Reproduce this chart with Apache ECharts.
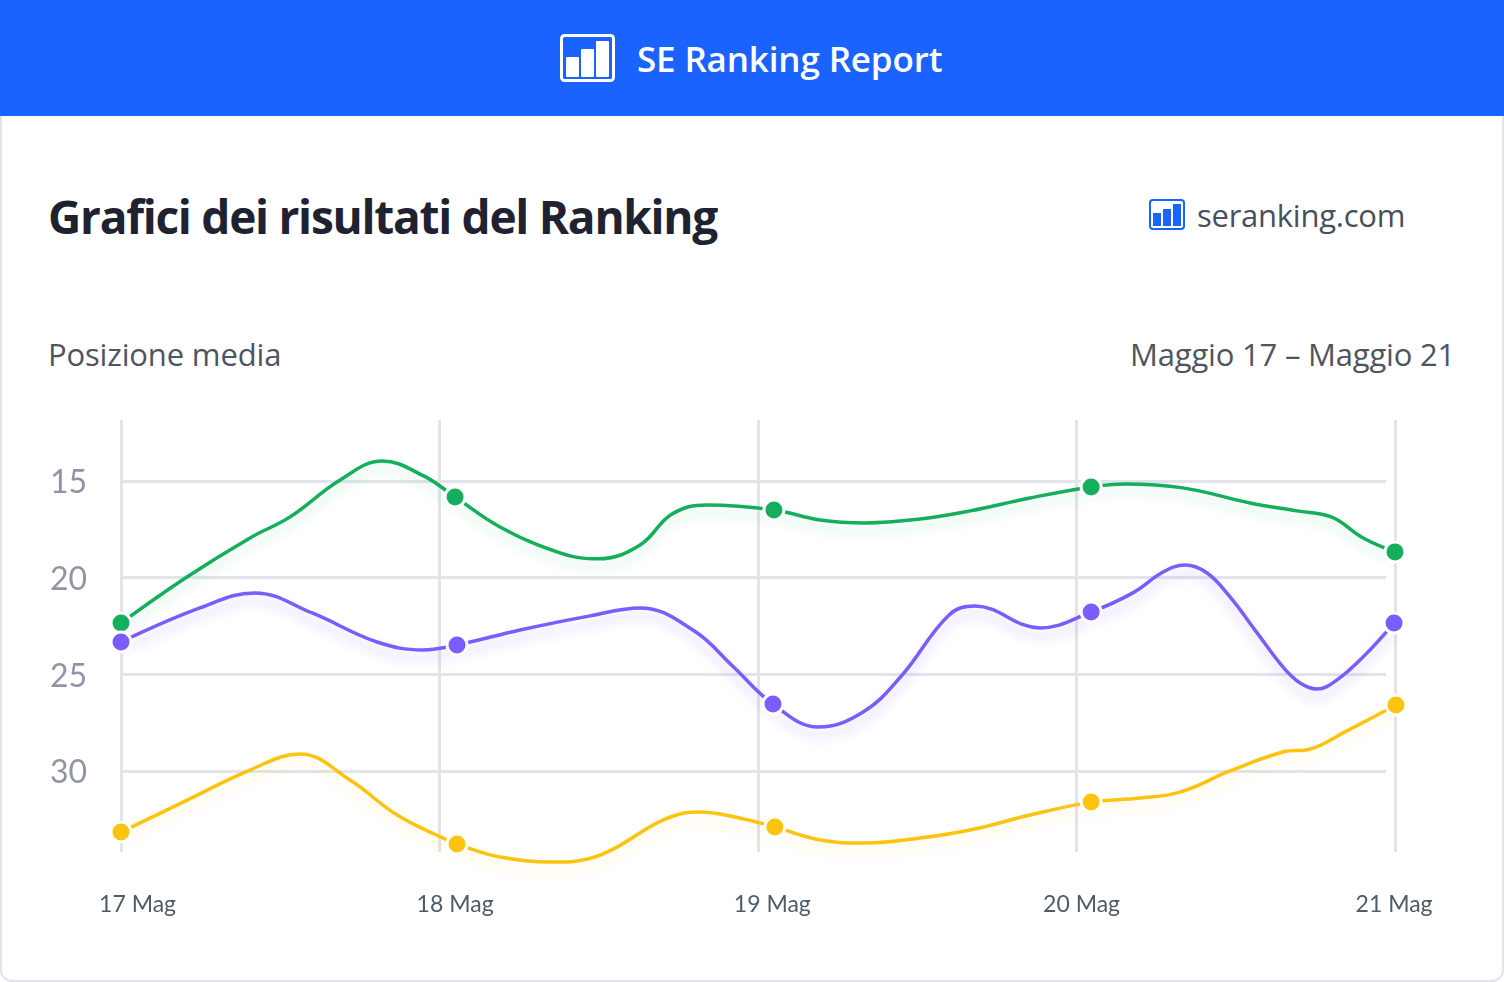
<!DOCTYPE html>
<html>
<head>
<meta charset="utf-8">
<title>SE Ranking Report</title>
<script src="https://cdn.jsdelivr.net/npm/echarts@6/dist/echarts.min.js"></script>
<style>
    html, body { margin: 0; padding: 0; background: #fff; }
    body { position: relative; width: 1504px; height: 982px; overflow: hidden; font-family: Lato, sans-serif; }
    .card { position: absolute; left: 0; top: 100px; width: 1500px; height: 878px; border: 2px solid #e3e4ea; border-radius: 12px; }
    .header { position: absolute; left: 0; top: 0; width: 1504px; height: 116px; background: #1a63ff; }
    .txt { position: absolute; white-space: nowrap; line-height: 1; }
    #chart { position: absolute; left: 0; top: 0; width: 1504px; height: 982px; }
</style>
</head>
<body>
<div class="card"></div>
<div class="header"></div>
<svg style="position:absolute;left:560px;top:34px" width="55" height="48">
    <rect x="1.5" y="1.5" width="52" height="45" rx="3" fill="none" stroke="#fff" stroke-width="3"/>
    <rect x="6" y="23" width="13" height="20" rx="1" fill="#fff"/>
    <rect x="21" y="15" width="13" height="28" rx="1" fill="#fff"/>
    <rect x="36" y="7" width="13" height="36" rx="1" fill="#fff"/>
</svg>
<div class="txt" style="left:637px;top:35px;font:600 35px 'Open Sans';letter-spacing:-0.15px;color:#fff">SE Ranking Report</div>
<div class="txt" style="left:48px;top:185px;font:700 46px 'Open Sans';letter-spacing:-1.27px;color:#1f2230">Grafici dei risultati del Ranking</div>
<svg style="position:absolute;left:1149px;top:199px" width="36" height="31">
    <rect x="1" y="1" width="34" height="29" rx="3" fill="none" stroke="#1a63ff" stroke-width="2"/>
    <rect x="4" y="14" width="8" height="13" fill="#1a63ff"/>
    <rect x="14" y="10" width="8" height="17" fill="#1a63ff"/>
    <rect x="24" y="5" width="8" height="22" fill="#1a63ff"/>
</svg>
<div class="txt" style="left:1197px;top:194px;font:400 31px 'Open Sans';letter-spacing:-0.25px;color:#4a4f5c">seranking.com</div>
<div class="txt" style="left:48px;top:333px;font:400 31px 'Open Sans';letter-spacing:-0.15px;color:#4f5560">Posizione media</div>
<div class="txt" style="right:49px;top:333px;font:400 31px 'Open Sans';letter-spacing:-0.2px;color:#4f5560">Maggio 17 – Maggio 21</div>
<div id="chart"></div>

<script>
// x = giorni dal 17 Mag, y = posizione media
const dateTicks = [0, 1, 2, 3, 4];
const dateLabels = ['17 Mag', '18 Mag', '19 Mag', '20 Mag', '21 Mag'];
const dateLabelAt = [0.052, 1.049, 2.045, 3.016, 3.997];
const positionTicks = [15, 20, 25, 30];

const greenDays = [0, 0.207, 0.405, 0.531, 0.688, 0.82, 0.95, 1.049, 1.19, 1.378, 1.498, 1.63, 1.73, 1.84, 2.05, 2.195, 2.336, 2.509, 2.666, 2.854, 3.046, 3.152, 3.334, 3.545, 3.692, 3.8, 3.9, 4];
const greenPos = [22.35, 19.97, 17.95, 16.86, 14.95, 13.97, 14.74, 15.83, 17.38, 18.72, 19.03, 18.31, 16.71, 16.24, 16.5, 17.02, 17.17, 16.97, 16.55, 15.88, 15.31, 15.16, 15.36, 16.14, 16.55, 16.86, 17.95, 18.67];
const greenDots = [0, 1.049, 2.05, 3.046, 4];

const purpleDays = [0, 0.248, 0.42, 0.6, 0.804, 0.948, 1.055, 1.253, 1.473, 1.63, 1.8, 1.92, 2.047, 2.19, 2.33, 2.45, 2.6, 2.681, 2.885, 3.046, 3.177, 3.272, 3.341, 3.41, 3.482, 3.567, 3.648, 3.702, 3.755, 3.818, 3.9, 3.997];
const purplePos = [23.33, 21.57, 20.79, 21.83, 23.33, 23.74, 23.48, 22.71, 21.98, 21.57, 22.76, 24.57, 26.54, 27.73, 26.95, 25.09, 21.93, 21.47, 22.6, 21.78, 20.79, 19.71, 19.35, 19.76, 21, 22.86, 24.62, 25.45, 25.76, 25.29, 24.1, 22.35];
const purpleDots = [0, 1.055, 2.047, 3.046, 3.997];

const yellowDays = [0, 0.195, 0.405, 0.562, 0.719, 0.867, 1.011, 1.055, 1.19, 1.347, 1.504, 1.708, 1.818, 1.928, 2.053, 2.195, 2.336, 2.509, 2.681, 2.854, 3.046, 3.199, 3.325, 3.482, 3.648, 3.733, 3.843, 4.003];
const yellowPos = [33.16, 31.61, 29.95, 29.12, 30.47, 32.28, 33.47, 33.78, 34.45, 34.71, 34.35, 32.49, 32.12, 32.38, 32.9, 33.57, 33.73, 33.47, 33, 32.28, 31.61, 31.4, 31.09, 30, 29.02, 28.87, 27.98, 26.59];
const yellowDots = [0, 1.055, 2.053, 3.046, 4.003];

function makeLine(name, days, pos, dots, color, glow) {
    return {
        name: name,
        type: 'line',
        xAxisIndex: 1,
        yAxisIndex: 1,
        data: days.map((d, i) => [d, pos[i]]),
        smooth: 0.4,
        clip: false,
        showSymbol: true,
        showAllSymbol: true,
        symbol: (v) => dots.includes(v[0]) ? 'circle' : 'none',
        symbolSize: 20,
        itemStyle: { color: color, borderColor: '#fff', borderWidth: 3 },
        lineStyle: { color: color, width: 3.5, shadowColor: glow, shadowBlur: 12, shadowOffsetY: 8 },
        animation: false
    };
}

const chart = echarts.init(document.getElementById('chart'));
chart.setOption({
    animation: false,
    grid: [
        { left: 121, top: 420, width: 1265, height: 432 },
        { left: 121, top: 420, width: 1274, height: 432 }
    ],
    xAxis: [
        { gridIndex: 0, type: 'value', min: 0, max: 4, show: false },
        {
            gridIndex: 1, type: 'value', min: 0, max: 4,
            axisLine: { show: false },
            axisTick: { show: false, customValues: dateTicks },
            splitLine: { show: true, showMinLine: true, showMaxLine: true, lineStyle: { color: '#e3e4ea', width: 3 } },
            axisLabel: {
                customValues: dateLabelAt,
                margin: 41,
                fontFamily: 'Lato',
                fontSize: 23,
                color: '#4f5b66',
                hideOverlap: false,
                formatter: v => dateLabels[dateLabelAt.indexOf(v)]
            }
        }
    ],
    yAxis: [
        {
            gridIndex: 0, type: 'value', inverse: true, min: 11.85, max: 34.19,
            axisLine: { show: false },
            axisTick: { show: false, customValues: positionTicks },
            splitLine: { show: true, lineStyle: { color: '#e3e4ea', width: 3 } },
            axisLabel: {
                customValues: positionTicks,
                margin: 34,
                formatter: v => '{a|' + v + '}',
                rich: { a: { padding: [4, 0, 0, 0], fontFamily: 'Lato', fontSize: 32, color: '#8f95a3' } }
            }
        },
        { gridIndex: 1, type: 'value', inverse: true, min: 11.85, max: 34.19, show: false }
    ],
    series: [
        makeLine('Verde', greenDays, greenPos, greenDots, '#14ae5c', 'rgba(20,174,92,0.2)'),
        makeLine('Viola', purpleDays, purplePos, purpleDots, '#7a5cff', 'rgba(122,92,255,0.3)'),
        makeLine('Giallo', yellowDays, yellowPos, yellowDots, '#fcc30f', 'rgba(252,195,15,0.2)')
    ]
});
</script>
</body>
</html>
